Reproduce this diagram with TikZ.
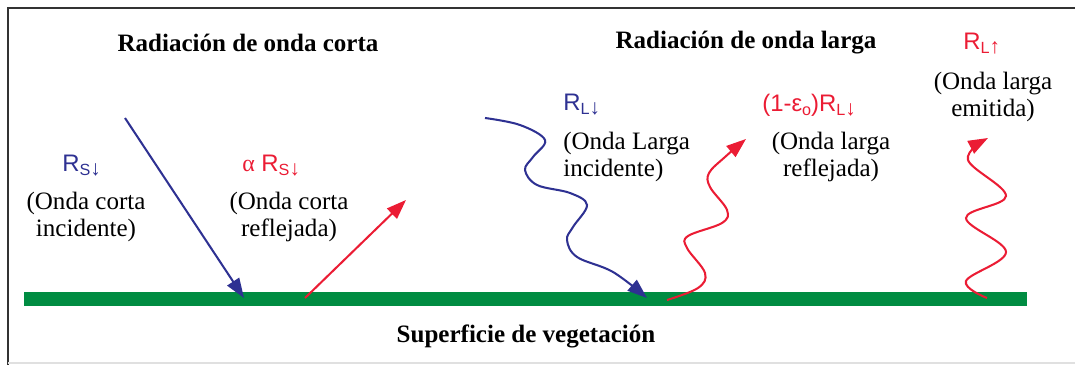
\documentclass[tikz,border=0pt]{standalone}
\usepackage{fontspec}
\setmainfont{Liberation Serif}
\setsansfont{Liberation Sans}
\usetikzlibrary{arrows.meta}
\definecolor{wblue}{RGB}{46,49,146}
\definecolor{wred}{RGB}{235,28,52}
\definecolor{wgreen}{RGB}{0,140,66}
\definecolor{framecol}{RGB}{50,50,50}
\newcommand{\lsub}[1]{\raisebox{-2.8pt}{\fontsize{11.5}{12}\selectfont #1}}
\newcommand{\dnarr}{{\fontsize{15}{15}\selectfont ↓}}
\newcommand{\uparr}{{\fontsize{15}{15}\selectfont ↑}}
\tikzset{
  ray/.style={line width=1.45pt, -{Triangle[length=14pt,width=10pt]}},
  headline/.style={font=\fontsize{17.8}{20}\selectfont\bfseries, inner sep=0pt, anchor=base},
  desc/.style={font=\fontsize{17.8}{19.5}\selectfont, inner sep=0pt, align=center, anchor=base},
  descl/.style={font=\fontsize{17.8}{19.5}\selectfont, inner sep=0pt, align=left, anchor=base west},
  sym/.style={font=\fontsize{17}{19}\selectfont\sffamily, inner sep=0pt, anchor=base west},
}
\begin{document}
\begin{tikzpicture}[x=0.025cm,y=-0.025cm]
\useasboundingbox (0,0) rectangle (1075,365);
% frame
\draw[framecol, line width=1.4pt] (8,365) -- (8,8) -- (1075,8);
\draw[black!12, line width=0.8pt] (8,363) -- (1075,363);
% ground
\fill[wgreen] (24,292) rectangle (1027,306);
% titles
\node[headline] (t1) at (248,52) {Radiación de onda corta};
\node[headline] (t2) at (746,49) {Radiación de onda larga};
\node[headline] (t3) at (526,343) {Superficie de vegetación};
% labels
\node[sym, wblue] (l1) at (62,172) {R\lsub{S\dnarr}};
\node[desc] (d1) at (86,237) {(Onda corta\\incidente)};
\node[sym, wred] (l2) at (242,172) {{\rmfamily α} R\lsub{S\dnarr}};
\node[desc] (d2) at (289,237) {(Onda corta\\reflejada)};
\node[sym, wblue] (l3) at (563,111) {R\lsub{L\dnarr}};
\node[descl] (d3) at (563,177) {(Onda Larga\\incidente)};
\node[sym, wred] (l4) at (762,112) {(1-ε\lsub{o})R\lsub{L\dnarr}};
\node[desc] (d4) at (831,177) {(Onda larga\\reflejada)};
\node[sym, wred] (l5) at (963,50) {R\lsub{L\uparr}};
\node[desc] (d5) at (993,117) {(Onda larga\\emitida)};
% short wave
\coordinate (a1s) at (125,118);
\coordinate (a1e) at (244,298);
\draw[ray, wblue] (a1s) -- (a1e);
\coordinate (a2s) at (305,298);
\coordinate (a2e) at (406,200);
\draw[ray, wred] (a2s) -- (a2e);
% long wave incident
\coordinate (b1s) at (485,118);
\coordinate (b1e) at (647,298);
\draw[ray, wblue] plot[smooth, tension=0.6] coordinates {(b1s) (520,125) (545,140) (533,157) (525,170) (537,185) (570,193) (587,205) (573,227) (567,240) (577,257) (613,272) (b1e)};
% long wave reflected
\coordinate (b2s) at (667,300);
\coordinate (b2e) at (746,139);
\draw[ray, wred] plot[smooth, tension=0.6] coordinates {(b2s) (698,288) (705,273) (687,248) (688,236) (722,223) (727,210) (710,187) (709,173) (725,157) (b2e)};
% long wave emitted
\coordinate (b3s) at (987,298);
\coordinate (b3e) at (988,138);
\draw[ray, wred] plot[smooth, tension=0.6] coordinates {(b3s) (966,281) (1006,252) (966,218) (1006,196) (968,160) (b3e)};
\end{tikzpicture}
\end{document}
